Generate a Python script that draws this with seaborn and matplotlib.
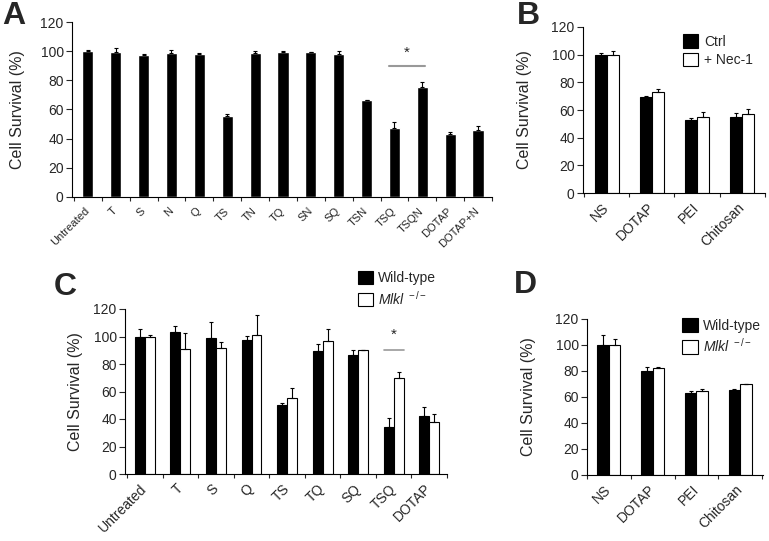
import numpy as np
import pandas as pd
import matplotlib
matplotlib.use("Agg")
import matplotlib.pyplot as plt
import seaborn as sns
from matplotlib.patches import Patch

# ---- data ----
a_labels = ["Untreated", "T", "S", "N", "Q", "TS", "TN", "TQ", "SN", "SQ",
            "TSN", "TSQ", "TSQN", "DOTAP", "DOTAP+N"]
a_means = [100, 99.2, 97.3, 98.5, 97.8, 55.6, 98.9, 99.2, 99.2, 97.8,
           66.4, 47.4, 75.1, 43.5, 45.8]
a_err = [0.8, 2.7, 0.5, 2.3, 0.7, 1.0, 0.9, 0.6, 0.4, 2.3,
         0.3, 4.0, 3.8, 1.1, 3.0]

b_labels = ["NS", "DOTAP", "PEI", "Chitosan"]
b_groups = ["Ctrl", "+ Nec-1"]
b_ctrl = [100, 69.3, 52.8, 54.7]
b_ctrl_err = [1.5, 0.6, 1.2, 2.9]
b_nec = [100, 72.7, 55.0, 56.9]
b_nec_err = [3.0, 2.3, 3.8, 3.8]

c_labels = ["Untreated", "T", "S", "Q", "TS", "TQ", "SQ", "TSQ", "DOTAP"]
c_wt = [100, 103, 98.9, 97.6, 50.0, 89.1, 86.7, 34.5, 42.3]
c_wt_err = [5.4, 4.8, 11.6, 3.0, 1.5, 5.6, 3.7, 6.1, 6.7]
c_ko = [100, 91.0, 91.8, 101, 55.1, 96.4, 90.1, 69.7, 38.1]
c_ko_err = [0.8, 11.5, 4.4, 14.9, 7.3, 9.3, 0.3, 4.4, 5.6]

d_labels = ["NS", "DOTAP", "PEI", "Chitosan"]
d_wt = [100, 80.3, 63.3, 65.6]
d_wt_err = [8.0, 3.0, 1.1, 0.6]
d_ko = [100, 82.3, 64.9, 69.7]
d_ko_err = [4.6, 0.5, 1.3, 0.3]

geno = ["Wild-type", "Mlkl"]
ko_label = r"$\mathit{Mlkl}^{\ -/-}$"

sns.set_theme(style="ticks")
plt.rcParams["font.family"] = ["Liberation Sans", "DejaVu Sans"]
plt.rcParams["mathtext.fontset"] = "custom"
plt.rcParams["mathtext.rm"] = "Liberation Sans"
plt.rcParams["mathtext.it"] = "Liberation Sans:italic"
plt.rcParams["axes.linewidth"] = 0.8

fig = plt.figure(figsize=(7.69, 5.41), dpi=100)
W, H = 769.0, 541.0


def add_ax(left, top, right, bottom):
    return fig.add_axes([left / W, 1 - bottom / H, (right - left) / W, (bottom - top) / H])


def add_errors(ax, errs_per_container):
    for cont, errs in zip(ax.containers, errs_per_container):
        xs = [p.get_x() + p.get_width() / 2 for p in cont.patches]
        hs = [p.get_height() for p in cont.patches]
        ax.errorbar(xs, hs, yerr=[np.zeros(len(errs)), errs], fmt="none",
                    ecolor="black", elinewidth=0.8, capsize=1.5, capthick=0.8)


def style_axes(ax, labels, xlim, xfont, ylabel_x):
    n = len(labels)
    ax.set_ylim(0, 120)
    ax.set_yticks(range(0, 121, 20))
    ax.set_xlim(*xlim)
    ax.set_xticks(range(n))
    ax.set_xticklabels(labels, rotation=45, ha="right", va="center",
                       rotation_mode="anchor", fontsize=xfont)
    ax.set_xticks(np.arange(n + 1) - 0.5, minor=True)
    ax.tick_params(axis="x", which="major", length=0, pad=9)
    ax.tick_params(axis="x", which="minor", length=3, width=0.8, direction="out")
    ax.tick_params(axis="y", length=4, width=0.8, direction="out", labelsize=10, pad=2)
    ax.set_xlabel("")
    ax.set_ylabel("Cell Survival (%)", fontsize=11.5)
    ax.yaxis.set_label_coords(ylabel_x, 0.5)
    for s in ["top", "right"]:
        ax.spines[s].set_visible(False)
    for s in ["left", "bottom"]:
        ax.spines[s].set_color("black")


def legend(ax, labels, loc):
    handles = [Patch(facecolor="black", edgecolor="black", linewidth=0.8),
               Patch(facecolor="white", edgecolor="black", linewidth=0.8)]
    ax.legend(handles, labels, loc="upper left", bbox_to_anchor=loc, frameon=False,
              fontsize=10, handlelength=1.1, handleheight=1.1, handletextpad=0.4,
              labelspacing=0.3, borderaxespad=0)


# ---- panel A ----
axA = add_ax(72, 22, 492, 197)
sns.barplot(x=a_labels, y=a_means, color="black", width=0.4, errorbar=None,
            saturation=1, ax=axA)
add_errors(axA, [a_err])
style_axes(axA, a_labels, (-0.57, 14.43), 8, -0.112)
axA.plot([10.8, 12.1], [89.5, 89.5], color="#999999", lw=1.5)
axA.text(11.45, 94, "*", ha="center", va="bottom", fontsize=11)

# ---- panel B ----
dfB = pd.DataFrame({"cond": b_labels * 2,
                    "grp": [b_groups[0]] * 4 + [b_groups[1]] * 4,
                    "val": b_ctrl + b_nec})
axB = add_ax(583, 27, 765, 193)
sns.barplot(data=dfB, x="cond", y="val", hue="grp", palette=["black", "white"],
            edgecolor="black", linewidth=0.8, width=0.53, errorbar=None,
            saturation=1, legend=False, ax=axB)
add_errors(axB, [b_ctrl_err, b_nec_err])
style_axes(axB, b_labels, (-0.53, 3.51), 10, -0.28)
legend(axB, b_groups, (0.52, 0.99))

# ---- panel C ----
dfC = pd.DataFrame({"cond": c_labels * 2,
                    "grp": [geno[0]] * 9 + [geno[1]] * 9,
                    "val": c_wt + c_ko})
axC = add_ax(125, 309, 447, 474)
sns.barplot(data=dfC, x="cond", y="val", hue="grp", palette=["black", "white"],
            edgecolor="black", linewidth=0.8, width=0.56, errorbar=None,
            saturation=1, legend=False, ax=axC)
add_errors(axC, [c_wt_err, c_ko_err])
style_axes(axC, c_labels, (-0.56, 8.5), 10, -0.13)
axC.plot([6.73, 7.28], [90, 90], color="#999999", lw=1.2)
axC.text(7.0, 96, "*", ha="center", va="bottom", fontsize=11)
legend(axC, ["Wild-type", ko_label], (0.705, 1.265))

# ---- panel D ----
dfD = pd.DataFrame({"cond": d_labels * 2,
                    "grp": [geno[0]] * 4 + [geno[1]] * 4,
                    "val": d_wt + d_ko})
axD = add_ax(587, 319, 763, 475)
sns.barplot(data=dfD, x="cond", y="val", hue="grp", palette=["black", "white"],
            edgecolor="black", linewidth=0.8, width=0.53, errorbar=None,
            saturation=1, legend=False, ax=axD)
add_errors(axD, [d_wt_err, d_ko_err])
style_axes(axD, d_labels, (-0.48, 3.52), 10, -0.29)
legend(axD, ["Wild-type", ko_label], (0.51, 1.04))

# panel letters
for txt, x, y in [("A", 14, 16), ("B", 528, 16), ("C", 65, 287), ("D", 525, 285)]:
    fig.text(x / W, 1 - y / H, txt, ha="center", va="center", fontsize=23,
             fontweight="bold")

fig.savefig("out.png", dpi=100)
